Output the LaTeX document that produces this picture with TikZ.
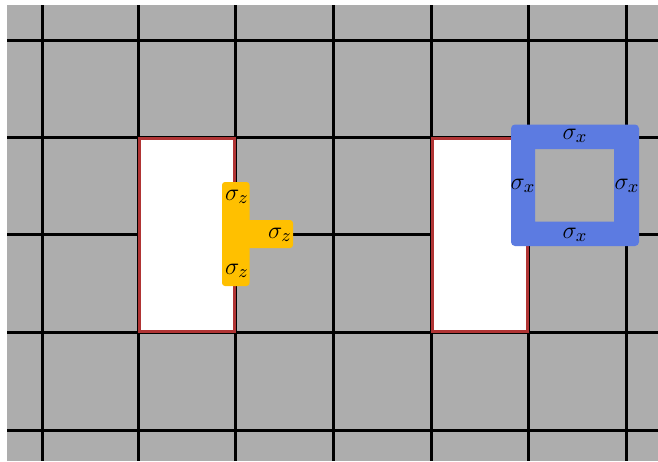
\documentclass[tikz,border=0pt]{standalone}
\definecolor{cellgray}{RGB}{173,173,173}
\definecolor{holered}{RGB}{176,52,52}
\definecolor{zyellow}{RGB}{255,192,0}
\definecolor{xblue}{RGB}{92,123,225}
\newcommand\pauliop[1]{$\sigma_{\mbox{\fontsize{9}{10}\selectfont$#1$}}$}
\tikzset{
  gridline/.style={black, line width=1.5pt},
  holebox/.style={draw=holered, fill=white, line width=1.5pt},
  zop/.style={fill=zyellow, rounded corners=1.5pt},
  xop/.style={fill=xblue, even odd rule},
  oplabel/.style={inner sep=0pt, font=\fontsize{11.5}{13}\selectfont},
}
\begin{document}
\begin{tikzpicture}[x=0.5pt, y=-0.5pt]
\useasboundingbox (0,0) rectangle (658,461);
\fill[cellgray] (7,5) rectangle (658,461);
\foreach \gx in {42,138,235.5,333,431,528,626}
  \draw[gridline] (\gx,5) -- (\gx,461);
\foreach \gy in {40,137,234.5,332,430}
  \draw[gridline] (7,\gy) -- (658,\gy);
% holes
\draw[holebox] (139,138) rectangle (234.5,331);
\draw[holebox] (432,138) rectangle (527,331);
% Z operator (yellow T)
\fill[zop] (222,182) rectangle (249.5,286);
\fill[zop] (240,220) rectangle (293,248);
\node[oplabel] (z1) at (237,197) {\pauliop{z}};
\node[oplabel] (z2) at (280,235) {\pauliop{z}};
\node[oplabel] (z3) at (237,271) {\pauliop{z}};
% X operator (blue ring)
\fill[xop] [rounded corners=2pt] (511,124.5) rectangle (639,246) [sharp corners] (535,149) rectangle (614,221.5);
\node[oplabel] (x1) at (575,136) {\pauliop{x}};
\node[oplabel] (x2) at (575,235) {\pauliop{x}};
\node[oplabel] (x3) at (523,186) {\pauliop{x}};
\node[oplabel] (x4) at (627,186) {\pauliop{x}};
\end{tikzpicture}
\end{document}
